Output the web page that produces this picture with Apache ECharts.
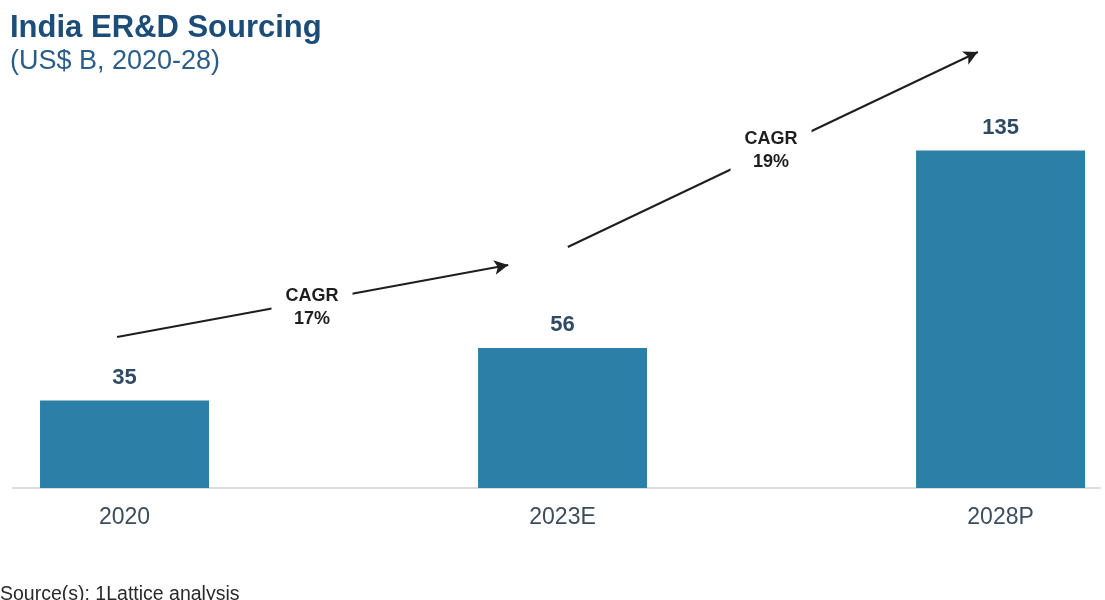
<!DOCTYPE html>
<html>
<head>
<meta charset="utf-8">
<title>India ER&amp;D Sourcing</title>
<script src="https://cdn.jsdelivr.net/npm/echarts@6/dist/echarts.min.js"></script>
<style>
  html, body { margin: 0; padding: 0; background: #fff; }
  #chart { width: 1105px; height: 600px; }
</style>
</head>
<body>
<div id="chart"></div>
<script>
// Market size, US$ B
const categories = ['2020', '2023E', '2028P'];
const values = [35, 56, 135];

// Growth annotations: arrow start/end and label anchor, in axis units (x = category index, y = US$ B)
const cagrLabels = ['17%', '19%'];
const cagrArrows = [
  { from: [-0.017, 60.4], to: [0.876, 89.2], label: [0.428, 72] },
  { from: [1.012, 96.4], to: [1.948, 174.4], label: [1.476, 134.8] }
];

const chart = echarts.init(document.getElementById('chart'), null, { renderer: 'canvas' });

const FONT = 'Liberation Sans, Arial, sans-serif';
const barColor = '#2c7fa6';
const labelColor = '#2f4a63';

chart.setOption({
  backgroundColor: '#ffffff',
  animation: false,
  title: [
    {
      text: 'India ER&D Sourcing',
      left: 10, top: 13, padding: 0,
      textStyle: { fontFamily: FONT, fontSize: 31, fontWeight: 'bold', color: '#1c4c78' }
    },
    {
      text: '(US$ B, 2020-28)',
      left: 10, top: 48, padding: 0,
      textStyle: { fontFamily: FONT, fontSize: 27, fontWeight: 'normal', color: '#2b5d8b' }
    },
    {
      text: 'Source(s): 1Lattice analysis',
      left: 0, top: 585, padding: 0,
      textStyle: { fontFamily: FONT, fontSize: 19.5, fontWeight: 'normal', color: '#2a2a2a' }
    }
  ],
  grid: { left: 13, right: 5, top: 0, bottom: 112, containLabel: false },
  xAxis: {
    type: 'value',
    min: -0.2546,
    max: 2.227,
    splitLine: { show: false },
    axisTick: { show: false },
    axisLine: { show: true, lineStyle: { color: '#dcdcdc', width: 2 } },
    axisLabel: {
      customValues: [0, 1, 2],
      formatter: v => categories[Math.round(v)],
      margin: 18,
      fontFamily: FONT,
      fontSize: 23,
      color: '#3a4c5e'
    }
  },
  yAxis: {
    type: 'value',
    min: 0,
    max: 195.2,
    show: false,
    splitLine: { show: false }
  },
  series: [
    {
      type: 'bar',
      data: values.map((v, i) => [i, v]),
      barWidth: 169,
      clip: false,
      itemStyle: { color: barColor },
      label: {
        show: true,
        position: 'top',
        distance: 12,
        fontFamily: FONT,
        fontSize: 22,
        fontWeight: 'bold',
        color: labelColor
      },
      markLine: {
        silent: true,
        symbol: ['none', 'arrow'],
        symbolSize: [11, 14],
        lineStyle: { color: '#1e1e1e', width: 2, type: 'solid' },
        label: { show: false },
        data: cagrArrows.map(a => [
          { coord: a.from },
          { coord: a.to }
        ])
      }
    },
    {
      type: 'scatter',
      z: 10,
      symbolSize: 1,
      silent: true,
      itemStyle: { color: '#ffffff', opacity: 1 },
      data: cagrArrows.map((a, i) => ({ value: a.label, name: cagrLabels[i] })),
      label: {
        show: true,
        position: 'inside',
        opacity: 1,
        formatter: p => '{a|CAGR}\n{b|' + p.name + '}',
        backgroundColor: '#ffffff',
        padding: [6, 14, 6, 14],
        rich: {
          a: { fontFamily: FONT, fontSize: 18, fontWeight: 'bold', color: '#1e1e1e', lineHeight: 23, align: 'center' },
          b: { fontFamily: FONT, fontSize: 18, fontWeight: 'bold', color: '#1e1e1e', lineHeight: 23, align: 'center' }
        }
      }
    }
  ]
});
</script>
</body>
</html>
